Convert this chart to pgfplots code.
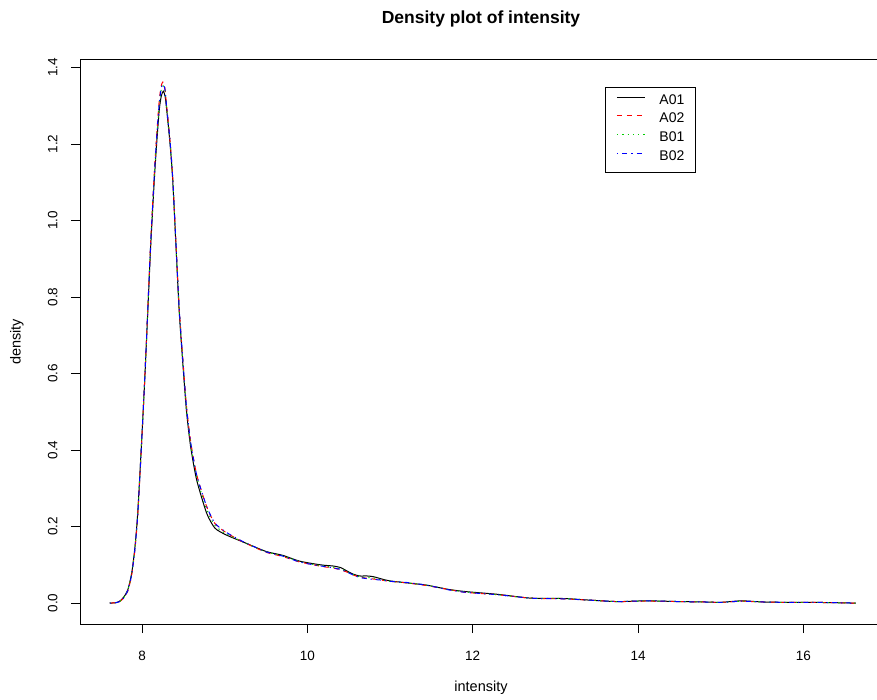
\documentclass[border=0pt]{standalone}
\usepackage{pgfplots}
\pgfplotsset{compat=1.18}
\usepackage{fontspec}
\setmainfont{Liberation Sans}
\definecolor{rred}{HTML}{FF0000}
\definecolor{rgreen}{HTML}{00CD00}
\definecolor{rblue}{HTML}{0000FF}
\begin{document}
\begin{tikzpicture}[x=1pt,y=1pt]
\useasboundingbox (0,0) rectangle (877,699);
\begin{axis}[
  at={(80pt,75pt)}, anchor=south west,
  scale only axis, width=802pt, height=564pt,
  xmin=7.25, xmax=16.95, ymin=-0.0546, ymax=1.4196,
  axis line style={line width=1pt},
  xtick={8,10,12,14,16}, ytick={0,0.2,0.4,0.6,0.8,1.0,1.2,1.4},
  xtick pos=lower, ytick pos=left,
  tick align=outside, major tick length=9pt,
  every tick/.style={black, line width=1pt},
  /pgf/number format/assume math mode=true,
  ticklabel style={font=\fontsize{13.5}{16}\selectfont},
  yticklabel style={rotate=90, anchor=south, /pgf/number format/fixed, /pgf/number format/fixed zerofill, /pgf/number format/precision=1},
  xticklabel style={anchor=north},
  xticklabel shift=15pt, yticklabel shift=10pt,
  xlabel={intensity}, ylabel={density},
  label style={font=\fontsize{14.5}{17}\selectfont},
  xlabel style={at={(axis description cs:0.5,-0.1135)}, anchor=center},
  ylabel style={at={(axis description cs:-0.0786,0.5)}, anchor=center},
  title={Density plot of intensity},
  title style={font=\fontsize{17.5}{21}\selectfont\bfseries, at={(axis description cs:0.5,1.0625)}, anchor=center},
  legend cell align=left,
  legend style={at={(axis description cs:0.6546,0.952)}, anchor=north west,
    draw=black, line width=0.9pt, inner xsep=11pt, inner ysep=9pt,
    font=\fontsize{14}{16}\selectfont, row sep=8.3pt, column sep=14pt,
    nodes={inner sep=0pt, text height=7pt, text depth=3pt}},
  legend image code/.code={\draw[#1] (0pt,5pt) -- (28pt,5pt);},
]
\addlegendimage{black, line width=1pt}
\addlegendentry{A01}
\addlegendimage{rred, line width=1pt, dash pattern=on 5pt off 5pt}
\addlegendentry{A02}
\addlegendimage{rgreen, line width=1pt, dash pattern=on 1.3pt off 4pt}
\addlegendentry{B01}
\addlegendimage{rblue, line width=1pt, dash pattern=on 1.3pt off 4pt on 5pt off 4pt}
\addlegendentry{B02}
\addplot[forget plot, black, line width=1pt, smooth, tension=0.4] coordinates {
(7.61,0.000) (7.68,0.001) (7.73,0.005) (7.78,0.016) (7.827,0.034) (7.875,0.078)
(7.915,0.147) (7.948,0.235) (7.992,0.409) (8.033,0.584) (8.069,0.758) (8.105,0.933)
(8.149,1.107) (8.178,1.203) (8.209,1.290) (8.233,1.325) (8.257,1.338) (8.279,1.325)
(8.298,1.290) (8.338,1.203) (8.371,1.107) (8.411,0.933) (8.451,0.758) (8.508,0.584)
(8.540,0.497) (8.588,0.409) (8.661,0.322) (8.782,0.235) (8.882,0.196) (9.02,0.178)
(9.22,0.160) (9.5,0.135) (9.7,0.125) (9.9,0.110) (10.1,0.102) (10.2,0.099)
(10.31,0.097) (10.40,0.093) (10.47,0.085) (10.55,0.076) (10.63,0.071) (10.72,0.071)
(10.8,0.069) (10.9,0.063) (11.0,0.058) (11.2,0.053) (11.44,0.047) (11.7,0.036)
(11.92,0.030) (12.3,0.023) (12.7,0.013) (13.1,0.012) (13.4,0.008) (13.75,0.004)
(14.1,0.006) (14.5,0.004) (14.8,0.003) (15.0,0.002) (15.25,0.006) (15.5,0.003)
(15.8,0.002) (16.1,0.002) (16.4,0.001) (16.63,0.000)
};
\addplot[forget plot, rred, line width=1pt, dash pattern=on 5pt off 5pt, smooth, tension=0.4] coordinates {
(7.61,0.000) (7.68,0.001) (7.73,0.004) (7.78,0.014) (7.827,0.031) (7.875,0.073)
(7.915,0.142) (7.948,0.228) (7.992,0.405) (8.033,0.586) (8.069,0.765) (8.105,0.945)
(8.149,1.125) (8.178,1.225) (8.205,1.305) (8.230,1.350) (8.252,1.362) (8.274,1.350)
(8.296,1.305) (8.336,1.215) (8.371,1.115) (8.411,0.940) (8.451,0.768) (8.508,0.596)
(8.540,0.510) (8.588,0.423) (8.661,0.336) (8.782,0.252) (8.882,0.208) (9.02,0.184)
(9.22,0.160) (9.5,0.133) (9.7,0.122) (9.9,0.108) (10.1,0.099) (10.2,0.095)
(10.31,0.092) (10.40,0.087) (10.47,0.082) (10.55,0.074) (10.63,0.068) (10.72,0.065)
(10.8,0.063) (10.9,0.060) (11.0,0.057) (11.2,0.053) (11.44,0.046) (11.7,0.036)
(11.92,0.028) (12.3,0.022) (12.7,0.013) (13.1,0.011) (13.4,0.008) (13.75,0.004)
(14.1,0.005) (14.5,0.004) (14.8,0.003) (15.0,0.002) (15.25,0.005) (15.5,0.003)
(15.8,0.002) (16.1,0.002) (16.4,0.001) (16.63,0.000)
};
\addplot[forget plot, rgreen, line width=1pt, dash pattern=on 1.3pt off 4pt, smooth, tension=0.4] coordinates {
(7.61,0.000) (7.68,0.001) (7.73,0.004) (7.78,0.015) (7.827,0.033) (7.875,0.076)
(7.915,0.145) (7.948,0.232) (7.992,0.407) (8.033,0.585) (8.069,0.762) (8.105,0.940)
(8.149,1.117) (8.178,1.215) (8.207,1.298) (8.231,1.340) (8.255,1.352) (8.277,1.340)
(8.297,1.298) (8.337,1.210) (8.371,1.111) (8.411,0.937) (8.451,0.763) (8.508,0.590)
(8.540,0.503) (8.588,0.416) (8.661,0.330) (8.782,0.245) (8.882,0.203) (9.02,0.181)
(9.22,0.160) (9.5,0.134) (9.7,0.124) (9.9,0.109) (10.1,0.100) (10.2,0.097)
(10.31,0.094) (10.40,0.090) (10.47,0.083) (10.55,0.075) (10.63,0.069) (10.72,0.067)
(10.8,0.066) (10.9,0.061) (11.0,0.057) (11.2,0.053) (11.44,0.047) (11.7,0.036)
(11.92,0.029) (12.3,0.022) (12.7,0.013) (13.1,0.012) (13.4,0.008) (13.75,0.004)
(14.1,0.006) (14.5,0.004) (14.8,0.003) (15.0,0.002) (15.25,0.005) (15.5,0.003)
(15.8,0.002) (16.1,0.002) (16.4,0.001) (16.63,0.000)
};
\addplot[forget plot, rblue, line width=1pt, dash pattern=on 1.3pt off 4pt on 5pt off 4pt, smooth, tension=0.4] coordinates {
(7.61,0.000) (7.68,0.001) (7.73,0.004) (7.78,0.014) (7.827,0.032) (7.875,0.074)
(7.915,0.143) (7.948,0.230) (7.992,0.406) (8.033,0.586) (8.069,0.764) (8.105,0.942)
(8.149,1.120) (8.178,1.220) (8.206,1.300) (8.231,1.345) (8.254,1.356) (8.276,1.345)
(8.297,1.300) (8.337,1.212) (8.371,1.113) (8.411,0.939) (8.451,0.766) (8.508,0.594)
(8.540,0.508) (8.588,0.421) (8.661,0.335) (8.782,0.253) (8.882,0.209) (9.02,0.185)
(9.22,0.161) (9.5,0.134) (9.7,0.123) (9.9,0.108) (10.1,0.099) (10.2,0.096)
(10.31,0.092) (10.40,0.088) (10.47,0.082) (10.55,0.074) (10.63,0.067) (10.72,0.064)
(10.8,0.062) (10.9,0.060) (11.0,0.057) (11.2,0.054) (11.44,0.047) (11.7,0.035)
(11.92,0.028) (12.3,0.022) (12.7,0.013) (13.1,0.011) (13.4,0.008) (13.75,0.004)
(14.1,0.006) (14.5,0.004) (14.8,0.003) (15.0,0.002) (15.25,0.005) (15.5,0.003)
(15.8,0.002) (16.1,0.002) (16.4,0.001) (16.63,0.000)
};
\end{axis}
\end{tikzpicture}
\end{document}
